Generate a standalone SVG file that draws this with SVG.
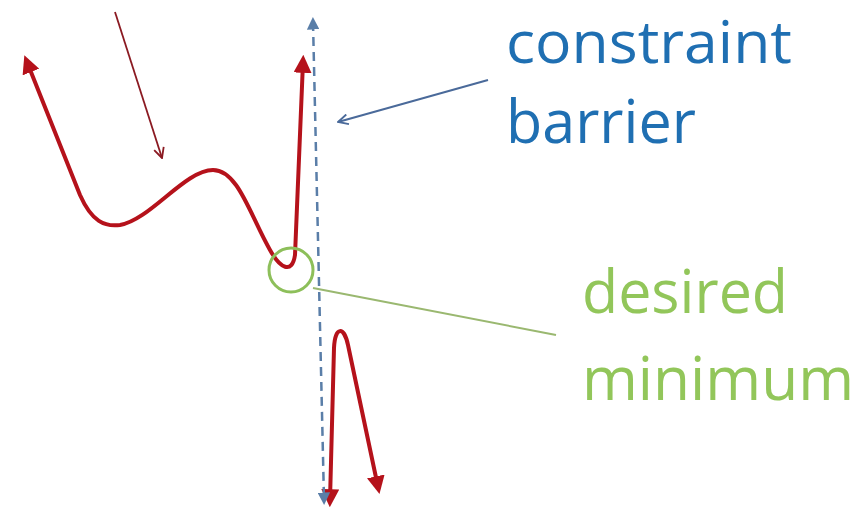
<svg xmlns="http://www.w3.org/2000/svg" width="868" height="512" viewBox="0 0 868 512">
<style>
.red{fill:none;stroke:#b5121b;stroke-width:4;stroke-linecap:round;stroke-linejoin:round}
.lbl{font-family:"Open Sans","Liberation Sans",sans-serif;font-size:60px}
.blue{fill:#1f6fb2}
.green{fill:#92c65a}
</style>
<defs>
<marker id="ar" viewBox="0 0 10 10" refX="6" refY="5" markerWidth="4.5" markerHeight="4.5" orient="auto-start-reverse" markerUnits="strokeWidth">
<path d="M0,0 L10,5 L0,10 Z" fill="#b5121b"/>
</marker>
<marker id="ab" viewBox="0 0 10 10" refX="6" refY="5" markerWidth="5" markerHeight="5" orient="auto-start-reverse" markerUnits="strokeWidth">
<path d="M0,0 L10,5 L0,10 Z" fill="#5a7ea8"/>
</marker>
<marker id="vb" viewBox="0 0 12 12" refX="11" refY="6" markerWidth="12" markerHeight="12" orient="auto" markerUnits="userSpaceOnUse">
<path d="M1,1 L11,6 L1,11" fill="none" stroke="#4a6a9a" stroke-width="1.8"/>
</marker>
<marker id="vr" viewBox="0 0 12 12" refX="11" refY="6" markerWidth="12" markerHeight="12" orient="auto" markerUnits="userSpaceOnUse">
<path d="M1,1 L11,6 L1,11" fill="none" stroke="#8b1a22" stroke-width="1.8"/>
</marker>
</defs>
<g id="function-upper">
<path class="red" d="M27,62 L80,195 C92,222 105,227 120,225 C150,220 185,170 213,170 C238,170 250,215 270,250 C280,268 292,275 295,255 L303,62" marker-start="url(#ar)" marker-end="url(#ar)"/>
</g>
<g id="function-lower">
<path class="red" d="M330,500 L334,348 C335,326 344,326 348,345 L378,487" marker-start="url(#ar)" marker-end="url(#ar)"/>
</g>
<g id="barrier-line">
<line x1="313" y1="22" x2="324" y2="500" stroke="#5a7ea8" stroke-width="2.5" stroke-dasharray="9,6" marker-start="url(#ab)" marker-end="url(#ab)"/>
</g>
<g id="desired-circle">
<circle cx="291" cy="270" r="22" fill="none" stroke="#8dbf5a" stroke-width="3"/>
</g>
<g id="connectors">
<line x1="115" y1="12" x2="162" y2="158" stroke="#8b1a22" stroke-width="1.8" marker-end="url(#vr)"/>
<line x1="488" y1="80" x2="338" y2="122" stroke="#4a6a9a" stroke-width="2" marker-end="url(#vb)"/>
<line x1="313" y1="288" x2="556" y2="335" stroke="#9ab870" stroke-width="2"/>
</g>
<g id="label-constraint">
<text class="lbl blue" x="506" y="63" font-size="58" style="font-size:58px" textLength="286" lengthAdjust="spacingAndGlyphs">constraint</text>
<text class="lbl blue" x="506" y="143" textLength="190" lengthAdjust="spacingAndGlyphs">barrier</text>
</g>
<g id="label-desired">
<text class="lbl green" x="582" y="313" textLength="206" lengthAdjust="spacingAndGlyphs">desired</text>
<text class="lbl green" x="582" y="400" textLength="272" lengthAdjust="spacingAndGlyphs">minimum</text>
</g>
</svg>
